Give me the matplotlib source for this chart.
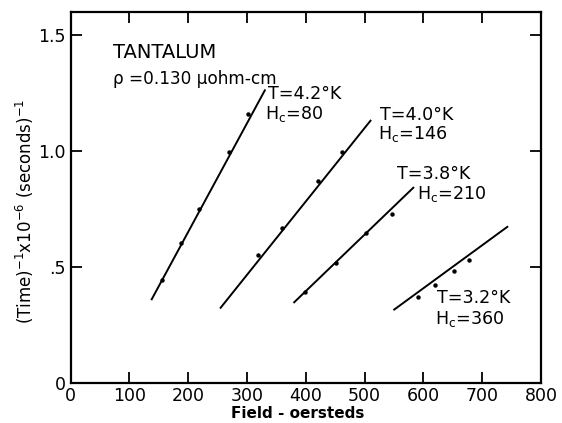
import matplotlib
matplotlib.use("Agg")
import matplotlib.pyplot as plt
import numpy as np

# ---- data ----
field_42 = [156, 188, 219, 269, 302]
rate_42 = [0.444, 0.604, 0.749, 0.995, 1.160]
fit_42_x = [137, 331]
fit_42_y = [0.358, 1.265]

field_40 = [319, 359, 420, 462]
rate_40 = [0.554, 0.669, 0.871, 0.995]
fit_40_x = [254, 511]
fit_40_y = [0.322, 1.134]

field_38 = [398, 451, 502, 546]
rate_38 = [0.394, 0.520, 0.647, 0.728]
fit_38_x = [379, 584]
fit_38_y = [0.346, 0.845]

field_32 = [591, 620, 652, 678]
rate_32 = [0.372, 0.425, 0.483, 0.530]
fit_32_x = [549, 744]
fit_32_y = [0.315, 0.676]

xticks = [0, 100, 200, 300, 400, 500, 600, 700, 800]
xticklabels = ["0", "100", "200", "300", "400", "500", "600", "700", "800"]
yticks = [0, 0.5, 1.0, 1.5]
yticklabels = ["0", ".5", "1.0", "1.5"]

curve_labels = [
    ("T=4.2°K", r"H$_\mathrm{c}$=80", 336, 1.245, 331, 1.160),
    ("T=4.0°K", r"H$_\mathrm{c}$=146", 526, 1.155, 523, 1.072),
    ("T=3.8°K", r"H$_\mathrm{c}$=210", 555, 0.900, 589, 0.815),
    ("T=3.2°K", r"H$_\mathrm{c}$=360", 623, 0.366, 620, 0.279),
]

plt.rcParams['font.family'] = ['DejaVu Sans']
plt.rcParams['mathtext.fontset'] = 'dejavusans'

fig = plt.figure(figsize=(5.62, 4.23), dpi=100)
ax = fig.add_axes([70.7 / 562, (423 - 383.3) / 423, (541 - 70.7) / 562, (383.3 - 11.7) / 423])

for fx, fy, px, py in [
    (fit_42_x, fit_42_y, field_42, rate_42),
    (fit_40_x, fit_40_y, field_40, rate_40),
    (fit_38_x, fit_38_y, field_38, rate_38),
    (fit_32_x, fit_32_y, field_32, rate_32),
]:
    ax.plot(fx, fy, color='black', lw=1.4, solid_capstyle='butt')
    ax.plot(px, py, 'o', color='black', ms=3.2, mew=0)

ax.set_xlim(0, 800)
ax.set_ylim(0, 1.6)
ax.set_xticks(xticks)
ax.set_xticklabels(xticklabels, fontsize=12.5)
ax.set_yticks(yticks)
ax.set_yticklabels(yticklabels, fontsize=12.5)
ax.tick_params(axis='both', direction='in', length=8, width=1.3,
               top=True, right=True, labeltop=False, labelright=False)
ax.tick_params(axis='x', pad=3)
ax.tick_params(axis='y', pad=3.5)
for s in ax.spines.values():
    s.set_linewidth(1.6)

ax.text(72, 1.424, "TANTALUM", fontsize=14, va='center', ha='left')
ax.text(72, 1.312, "ρ =0.130 μohm-cm", fontsize=12.2, va='center', ha='left')

for t1, t2, x1, y1, x2, y2 in curve_labels:
    ax.text(x1, y1, t1, fontsize=12.6, va='center', ha='left')
    ax.text(x2, y2, t2, fontsize=12.6, va='center', ha='left')

fig.text(25 / 562, 0.50, "(Time)$^{-1}$x10$^{-6}$ (seconds)$^{-1}$", rotation=90,
         fontsize=12, va='center', ha='center')
fig.text(298 / 562, 0.022, "Field - oersteds", fontsize=11, fontweight='bold',
         va='center', ha='center')

fig.savefig("out.png", dpi=100)
